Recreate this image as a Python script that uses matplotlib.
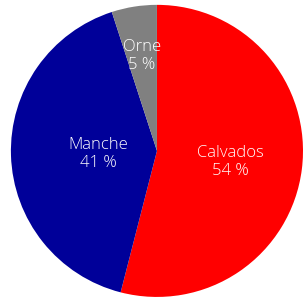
import numpy as np
import matplotlib.pyplot as plt

departements = ['Calvados', 'Manche', 'Orne']
parts = [54, 41, 5]
couleurs = ['#ff0000', '#000099', '#808080']
label_dist = [0.51, 0.40, 0.67]

fig = plt.figure(figsize=(3.03, 3.03), dpi=100)
ax = fig.add_axes([0.036, 0.02, 0.964, 0.964])

wedges, _ = ax.pie(parts, colors=couleurs, startangle=90, counterclock=False,
                   radius=1.0, wedgeprops={'linewidth': 0})
for w, nom, p, d in zip(wedges, departements, parts, label_dist):
    ang = np.deg2rad((w.theta1 + w.theta2) / 2)
    ax.text(d * np.cos(ang), d * np.sin(ang) - 0.01, f'{nom}\n{p} %', ha='center', va='center',
            color='white', fontsize=12, family='Open Sans', fontweight='light', linespacing=1.15)

ax.set_xlim(-1, 1)
ax.set_ylim(-1, 1)
ax.set_aspect('equal')
ax.axis('off')
fig.savefig('out.png', dpi=100)
